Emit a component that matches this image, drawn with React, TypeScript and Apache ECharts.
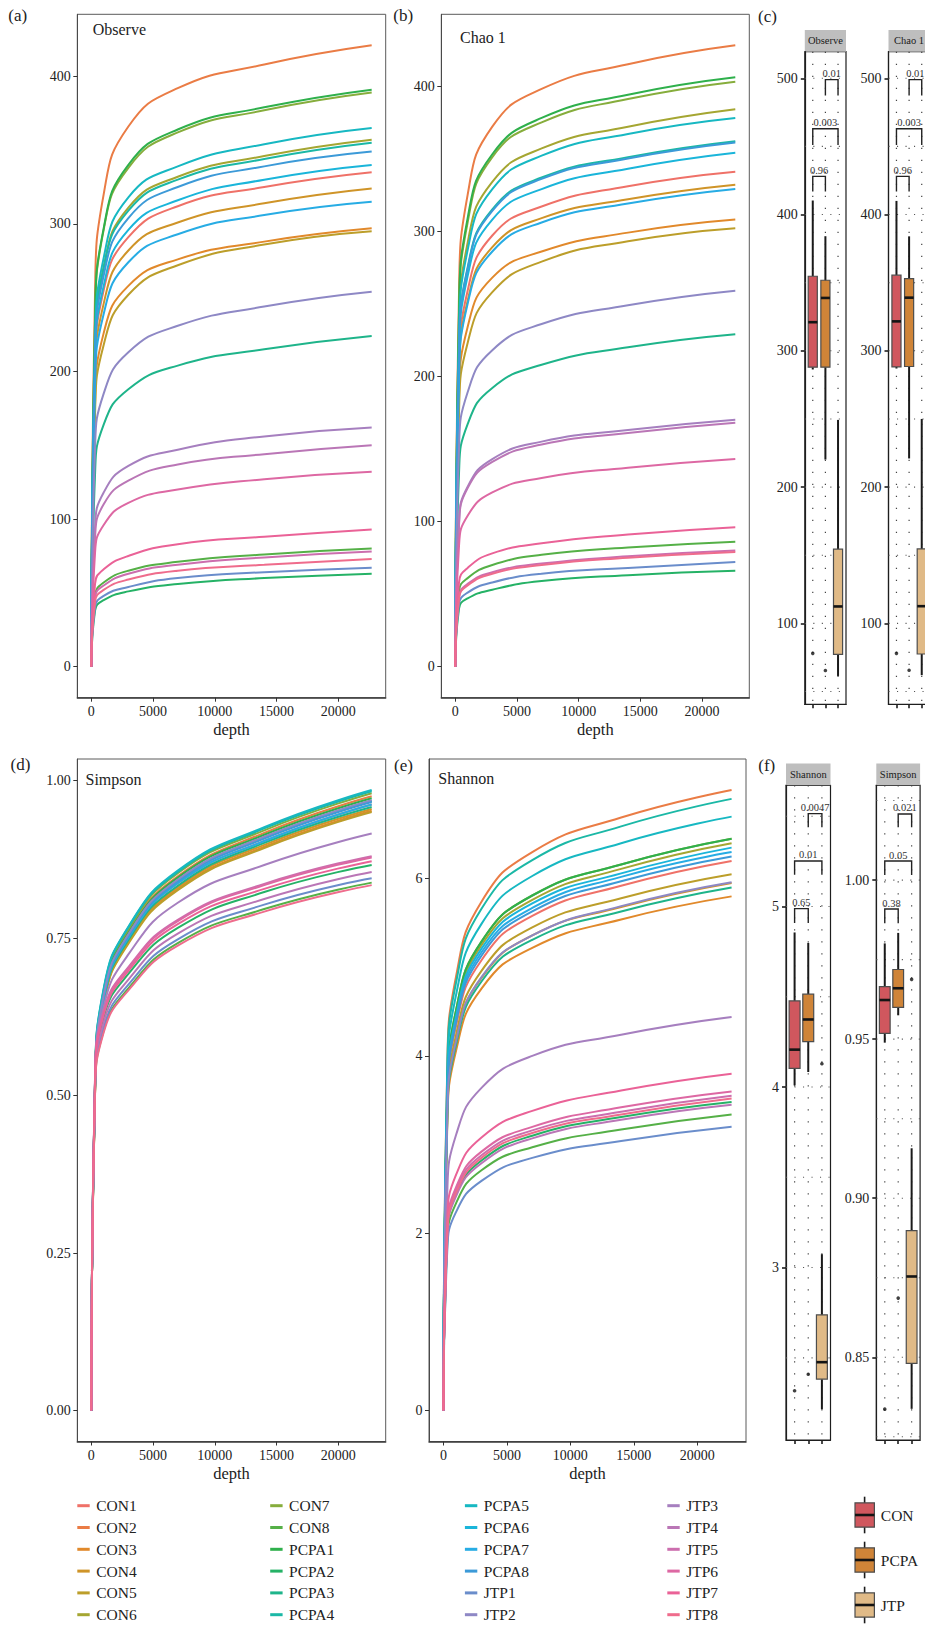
import React, { useEffect, useRef } from 'react';
import * as echarts from 'echarts';

const FONT = "'Liberation Serif', 'DejaVu Serif', serif";
const INK = '#222222';

// Rarefaction depths shared by every curve
const depths = [0, 300, 1000, 3000, 7000, 14000, 22700];
const depthTicks = [0, 5000, 10000, 15000, 20000];

const samples = [
  'CON1', 'CON2', 'CON3', 'CON4', 'CON5', 'CON6', 'CON7', 'CON8',
  'PCPA1', 'PCPA2', 'PCPA3', 'PCPA4', 'PCPA5', 'PCPA6', 'PCPA7', 'PCPA8',
  'JTP1', 'JTP2', 'JTP3', 'JTP4', 'JTP5', 'JTP6', 'JTP7', 'JTP8',
];

const sampleColors = [
  '#EF7168', '#EA7C45', '#E1892B', '#CF9428', '#BC9E2A', '#A5A632', '#86AD3C', '#55B047',
  '#2FB04C', '#25B266', '#1EB48A', '#1BB8A6', '#17B8C2', '#1AB5DA', '#27ACE4', '#3C9AD8',
  '#6A8DCB', '#8E88C5', '#A67FBF', '#BA76B6', '#CC6EAE', '#DD68A3', '#EA6297', '#EF6C8C',
];

// Observed OTUs per sample at each depth
const observeCurves = [
  [0, 201, 255, 291, 312, 325, 335],
  [0, 253, 320, 366, 392, 408, 421],
  [0, 178, 226, 258, 276, 288, 297],
  [0, 194, 246, 282, 301, 314, 324],
  [0, 171, 218, 252, 272, 286, 295],
  [0, 214, 271, 311, 332, 346, 357],
  [0, 233, 296, 338, 362, 377, 389],
  [0, 48, 57, 65, 71, 76, 80],
  [0, 235, 297, 340, 364, 379, 391],
  [0, 38, 45, 51, 56, 60, 63],
  [0, 130, 164, 188, 204, 215, 224],
  [0, 213, 270, 309, 330, 344, 355],
  [0, 219, 277, 318, 339, 354, 365],
  [0, 204, 258, 296, 316, 330, 340],
  [0, 189, 239, 274, 293, 306, 315],
  [0, 209, 265, 304, 325, 339, 349],
  [0, 40, 48, 54, 60, 64, 67],
  [0, 147, 185, 213, 231, 244, 254],
  [0, 94, 118, 136, 147, 156, 162],
  [0, 87, 110, 126, 137, 144, 150],
  [0, 47, 55, 63, 69, 74, 78],
  [0, 77, 96, 111, 120, 127, 132],
  [0, 56, 66, 75, 83, 88, 93],
  [0, 44, 52, 59, 65, 69, 73],
];

// Chao 1 estimate per sample at each depth
const chao1Curves = [
  [0, 205, 259, 297, 317, 331, 341],
  [0, 257, 325, 372, 398, 415, 428],
  [0, 185, 234, 268, 286, 299, 308],
  [0, 199, 252, 289, 309, 322, 332],
  [0, 175, 223, 258, 279, 293, 302],
  [0, 230, 292, 334, 357, 372, 384],
  [0, 242, 306, 351, 375, 391, 403],
  [0, 52, 61, 70, 77, 82, 86],
  [0, 244, 309, 353, 378, 394, 406],
  [0, 40, 47, 53, 59, 63, 66],
  [0, 133, 167, 192, 208, 220, 229],
  [0, 217, 275, 315, 337, 351, 362],
  [0, 227, 287, 329, 352, 367, 378],
  [0, 212, 269, 308, 329, 343, 354],
  [0, 197, 250, 286, 306, 319, 329],
  [0, 217, 274, 314, 336, 350, 361],
  [0, 43, 51, 58, 64, 68, 72],
  [0, 150, 189, 218, 236, 249, 259],
  [0, 99, 124, 143, 155, 163, 170],
  [0, 97, 123, 141, 153, 161, 168],
  [0, 48, 57, 65, 71, 76, 80],
  [0, 83, 104, 120, 130, 137, 143],
  [0, 58, 68, 78, 85, 91, 96],
  [0, 47, 56, 64, 70, 75, 79],
];

// Simpson index per sample at each depth
const simpsonCurves = [
  [0, 0.51, 0.654, 0.75, 0.837, 0.904, 0.962],
  [0, 0.517, 0.663, 0.761, 0.848, 0.917, 0.975],
  [0, 0.505, 0.647, 0.743, 0.828, 0.895, 0.952],
  [0, 0.506, 0.649, 0.745, 0.831, 0.898, 0.955],
  [0, 0.503, 0.646, 0.741, 0.826, 0.893, 0.95],
  [0, 0.513, 0.658, 0.754, 0.841, 0.909, 0.967],
  [0, 0.519, 0.666, 0.764, 0.853, 0.921, 0.98],
  [0, 0.503, 0.603, 0.67, 0.742, 0.796, 0.838],
  [0, 0.515, 0.661, 0.758, 0.846, 0.914, 0.972],
  [0, 0.52, 0.624, 0.693, 0.766, 0.823, 0.866],
  [0, 0.508, 0.651, 0.747, 0.833, 0.901, 0.958],
  [0, 0.521, 0.668, 0.767, 0.855, 0.924, 0.983],
  [0, 0.522, 0.67, 0.768, 0.857, 0.926, 0.985],
  [0, 0.513, 0.658, 0.755, 0.842, 0.91, 0.968],
  [0, 0.51, 0.654, 0.75, 0.837, 0.904, 0.962],
  [0, 0.512, 0.657, 0.753, 0.84, 0.908, 0.966],
  [0, 0.507, 0.608, 0.676, 0.748, 0.803, 0.845],
  [0, 0.514, 0.659, 0.756, 0.843, 0.911, 0.969],
  [0, 0.522, 0.641, 0.724, 0.806, 0.866, 0.916],
  [0, 0.513, 0.616, 0.684, 0.757, 0.812, 0.855],
  [0, 0.528, 0.634, 0.704, 0.779, 0.836, 0.88],
  [0, 0.527, 0.632, 0.702, 0.777, 0.834, 0.878],
  [0, 0.523, 0.628, 0.698, 0.772, 0.828, 0.872],
  [0, 0.5, 0.6, 0.667, 0.738, 0.792, 0.834],
];

// Shannon index (log2) per sample at each depth
const shannonCurves = [
  [0, 3.41, 4.34, 5.08, 5.58, 5.92, 6.2],
  [0, 3.85, 4.9, 5.74, 6.3, 6.69, 7.0],
  [0, 3.19, 4.06, 4.76, 5.22, 5.54, 5.8],
  [0, 3.27, 4.17, 4.88, 5.36, 5.68, 5.95],
  [0, 3.33, 4.24, 4.96, 5.45, 5.78, 6.05],
  [0, 3.52, 4.48, 5.25, 5.76, 6.11, 6.4],
  [0, 3.55, 4.52, 5.29, 5.81, 6.16, 6.45],
  [0, 1.87, 2.34, 2.71, 2.97, 3.17, 3.34],
  [0, 3.55, 4.52, 5.29, 5.81, 6.16, 6.45],
  [0, 1.95, 2.44, 2.82, 3.1, 3.31, 3.48],
  [0, 3.25, 4.13, 4.84, 5.31, 5.63, 5.9],
  [0, 3.8, 4.83, 5.66, 6.21, 6.59, 6.9],
  [0, 3.69, 4.69, 5.49, 6.03, 6.4, 6.7],
  [0, 3.49, 4.45, 5.21, 5.72, 6.06, 6.35],
  [0, 3.47, 4.41, 5.17, 5.67, 6.02, 6.3],
  [0, 3.44, 4.38, 5.13, 5.63, 5.97, 6.25],
  [0, 1.79, 2.24, 2.59, 2.85, 3.04, 3.2],
  [0, 3.28, 4.17, 4.89, 5.36, 5.69, 5.96],
  [0, 2.44, 3.11, 3.64, 4.0, 4.24, 4.44],
  [0, 1.93, 2.42, 2.79, 3.07, 3.28, 3.45],
  [0, 1.99, 2.49, 2.88, 3.16, 3.37, 3.55],
  [0, 2.02, 2.52, 2.92, 3.2, 3.42, 3.6],
  [0, 2.13, 2.66, 3.08, 3.38, 3.61, 3.8],
  [0, 1.97, 2.46, 2.85, 3.13, 3.34, 3.52],
];

const observeTicks = [0, 100, 200, 300, 400];
const chao1Ticks = [0, 100, 200, 300, 400];
const simpsonTicks = [0, 0.25, 0.5, 0.75, 1];
const shannonTicks = [0, 2, 4, 6];

// Group boxplots: [min, Q1, median, Q3, max] for CON, PCPA, JTP
const groups = ['CON', 'PCPA', 'JTP'];
const groupColors = ['#D0575E', '#CF8438', '#E0BA87'];

const observeBox = [
  [286.3, 288, 321, 354.7, 410.3],
  [220.2, 288, 338.8, 351.8, 384.1],
  [61.4, 77.3, 112.4, 154.4, 249.3],
];
const observeOutliers = [[0, 78], [1, 65.4]];

const chao1Box = [
  [287, 288.2, 321.6, 355.5, 410],
  [221, 288.5, 339, 353, 384],
  [62, 77.5, 112.6, 154.6, 250],
];
const chao1Outliers = [[0, 78], [1, 65.6]];

const shannonBox = [
  [4.009, 4.103, 4.207, 4.477, 4.856],
  [4.083, 4.251, 4.374, 4.514, 4.798],
  [2.215, 2.382, 2.476, 2.738, 3.074],
];
const shannonOutliers = [[0, 2.318], [1, 2.409], [2, 4.129]];

const simpsonBox = [
  [0.9489, 0.9518, 0.9623, 0.9665, 0.9801],
  [0.9575, 0.96, 0.966, 0.9719, 0.9834],
  [0.8338, 0.8481, 0.8754, 0.8898, 0.9157],
];
const simpsonOutliers = [[0, 0.8337], [1, 0.8686], [2, 0.9688]];

// Pairwise tests: [group a, group b, bracket top, leg end, p-value]
const richnessPvalues: any[] = [
  [0, 1, 428, 417, '0.96'],
  [0, 2, 463, 451, '0.003'],
  [1, 2, 499, 487.3, '0.01'],
];
const shannonPvalues: any[] = [
  [0, 1, 4.988, 4.908, '0.65'],
  [0, 2, 5.252, 5.175, '0.01'],
  [1, 2, 5.514, 5.439, '0.0047'],
];
const simpsonPvalues: any[] = [
  [0, 1, 0.9909, 0.9864, '0.38'],
  [0, 2, 1.006, 1.0016, '0.05'],
  [1, 2, 1.0208, 1.0166, '0.021'],
];

const richnessBoxTicks = [100, 200, 300, 400, 500];
const richnessGuides = [50, 100, 150, 200, 250, 300, 350, 400, 450, 500];
const shannonBoxTicks = [3, 4, 5];
const shannonGuides = [2.5, 3, 3.5, 4, 4.5, 5, 5.5];
const simpsonBoxTicks = [0.85, 0.9, 0.95, 1.0];
const simpsonGuides = [0.825, 0.85, 0.875, 0.9, 0.925, 0.95, 0.975, 1.0, 1.025];

const maxDepth = depths[depths.length - 1];
const depthRange = [-0.05 * maxDepth, 1.05 * maxDepth];
const padded = (rows: number[][]) => {
  const m = Math.max(...rows.map((r) => Math.max(...r)));
  return [-0.05 * m, 1.05 * m];
};

const plain = (v: number) => String(v);
const twoDp = (v: number) => v.toFixed(2);

const curvePanels = [
  { rows: observeCurves, ticks: observeTicks, fmt: plain, rect: { left: 77.3, top: 14.3, width: 308.4, height: 683.4 }, title: 'Observe', titleAt: [92.7, 29], tag: '(a)', tagAt: [8.3, 15.5] },
  { rows: chao1Curves, ticks: chao1Ticks, fmt: plain, rect: { left: 441.3, top: 14.3, width: 308, height: 683.4 }, title: 'Chao 1', titleAt: [460, 37.5], tag: '(b)', tagAt: [393.3, 15.8] },
  { rows: simpsonCurves, ticks: simpsonTicks, fmt: twoDp, rect: { left: 77.3, top: 759, width: 308.4, height: 682.5 }, title: 'Simpson', titleAt: [85.5, 779], tag: '(d)', tagAt: [10.6, 764] },
  { rows: shannonCurves, ticks: shannonTicks, fmt: plain, rect: { left: 429, top: 759, width: 317, height: 682.5 }, title: 'Shannon', titleAt: [438.3, 778.3], tag: '(e)', tagAt: [394, 765] },
];

const boxPanels = [
  { stats: observeBox, outliers: observeOutliers, pvalues: richnessPvalues, ticks: richnessBoxTicks, guides: richnessGuides, range: [40.6, 519.5], fmt: plain, rect: { left: 804.8, top: 51.7, width: 41.2, height: 652.6 }, strip: 'Observe', boxWidth: 0.72 },
  { stats: chao1Box, outliers: chao1Outliers, pvalues: richnessPvalues, ticks: richnessBoxTicks, guides: richnessGuides, range: [40.6, 519.5], fmt: plain, rect: { left: 888.5, top: 51.7, width: 41.2, height: 652.6 }, strip: 'Chao 1', boxWidth: 0.72 },
  { stats: shannonBox, outliers: shannonOutliers, pvalues: shannonPvalues, ticks: shannonBoxTicks, guides: shannonGuides, range: [2.045, 5.671], fmt: plain, rect: { left: 786, top: 785.3, width: 44.5, height: 654.7 }, strip: 'Shannon', boxWidth: 0.8 },
  { stats: simpsonBox, outliers: simpsonOutliers, pvalues: simpsonPvalues, ticks: simpsonBoxTicks, guides: simpsonGuides, range: [0.824, 1.0298], fmt: twoDp, rect: { left: 876.3, top: 785.3, width: 43.8, height: 654.7 }, strip: 'Simpson', boxWidth: 0.8 },
];

const legendLeft = [77.3, 270.2, 464.9, 667.3];
const legendRowsPerColumn = 6;

const label = (text: string, x: number, y: number, size: number, align: string = 'left', fill: string = INK) => ({
  type: 'text', x, y, silent: true,
  style: { text, font: `${size}px ${FONT}`, fill, align, verticalAlign: 'middle' },
});

function buildOption() {
  const grid: any[] = [];
  const xAxis: any[] = [];
  const yAxis: any[] = [];
  const series: any[] = [];
  const graphic: any[] = [];

  curvePanels.forEach((p, pi) => {
    const [yMin, yMax] = padded(p.rows);
    grid.push({ ...p.rect, show: true, borderColor: '#5a5a5a', borderWidth: 1, containLabel: false, outerBoundsMode: 'none' });
    xAxis.push({
      type: 'value', gridIndex: pi, min: depthRange[0], max: depthRange[1],
      axisLine: { show: true, onZero: false, lineStyle: { color: '#3a3a3a', width: 1.5 } },
      axisTick: { show: true, length: 4, customValues: depthTicks, lineStyle: { color: '#333' } },
      axisLabel: { show: false },
      splitLine: { show: false },
    });
    yAxis.push({
      type: 'value', gridIndex: pi, min: yMin, max: yMax,
      axisLine: { show: true, onZero: false, lineStyle: { color: '#4a4a4a', width: 1 } },
      axisTick: { show: true, length: 4, customValues: p.ticks, lineStyle: { color: '#333' } },
      axisLabel: { show: false },
      splitLine: { show: false },
    });
    samples.forEach((name, si) => {
      series.push({
        type: 'line', name, xAxisIndex: pi, yAxisIndex: pi,
        data: depths.map((d, k) => [d, p.rows[si][k]]),
        symbol: 'none', showSymbol: false, smooth: 0.5,
        lineStyle: { width: 2, color: sampleColors[si] },
        itemStyle: { color: sampleColors[si] },
        silent: true, z: 2,
      });
    });
    graphic.push(label(p.title, p.titleAt[0], p.titleAt[1], 16));
    graphic.push(label(p.tag, p.tagAt[0], p.tagAt[1], 17));
  });

  boxPanels.forEach((p, bi) => {
    const ai = curvePanels.length + bi;
    grid.push({ ...p.rect, show: true, borderColor: '#1e1e1e', borderWidth: 1.2, containLabel: false, outerBoundsMode: 'none' });
    xAxis.push({
      type: 'value', gridIndex: ai, min: -0.63, max: 2.63,
      axisLine: { show: true, onZero: false, lineStyle: { color: '#1e1e1e', width: 1.2 } },
      axisTick: { show: true, length: 4, customValues: [0, 1, 2], lineStyle: { color: '#1e1e1e', width: 1.6 } },
      axisLabel: { show: false },
      splitLine: { show: false },
    });
    yAxis.push({
      type: 'value', gridIndex: ai, min: p.range[0], max: p.range[1],
      axisLine: { show: true, onZero: false, lineStyle: { color: '#1e1e1e', width: 1.2 } },
      axisTick: { show: true, length: 4, customValues: p.ticks, lineStyle: { color: '#1e1e1e', width: 1.6 } },
      axisLabel: { show: false },
      splitLine: { show: false },
    });

    // dotted guides behind the boxes
    series.push({
      type: 'custom', xAxisIndex: ai, yAxisIndex: ai, silent: true, z: 1,
      data: [[0, p.range[0]]], encode: { x: 0, y: 1 },
      renderItem: (params: any, api: any) => {
        const cs = params.coordSys;
        const children: any[] = [];
        p.guides.forEach((v: number) => {
          const y = api.coord([0, v])[1];
          children.push({ type: 'line', shape: { x1: cs.x, y1: y, x2: cs.x + cs.width, y2: y }, style: { stroke: '#555', lineWidth: 1.1, lineDash: [1.1, 7.4] } });
        });
        [0, 1, 2].forEach((g) => {
          const x = api.coord([g, p.range[0]])[0];
          children.push({ type: 'line', shape: { x1: x, y1: cs.y, x2: x, y2: cs.y + cs.height }, style: { stroke: '#444', lineWidth: 1.2, lineDash: [1.2, 10.8] } });
        });
        return { type: 'group', children };
      },
    });

    // boxes
    series.push({
      type: 'custom', xAxisIndex: ai, yAxisIndex: ai, silent: true, z: 3,
      data: p.stats.map((s, g) => [g, ...s]),
      encode: { x: 0, y: [1, 2, 3, 4, 5] },
      renderItem: (params: any, api: any) => {
        const g = api.value(0);
        const lo = api.coord([g, api.value(1)]);
        const q1 = api.coord([g, api.value(2)]);
        const md = api.coord([g, api.value(3)]);
        const q3 = api.coord([g, api.value(4)]);
        const hi = api.coord([g, api.value(5)]);
        const half = api.size([p.boxWidth, 0])[0] / 2;
        const x = lo[0];
        return {
          type: 'group',
          children: [
            { type: 'line', shape: { x1: x, y1: hi[1], x2: x, y2: q3[1] }, style: { stroke: '#1a1a1a', lineWidth: 2 } },
            { type: 'line', shape: { x1: x, y1: q1[1], x2: x, y2: lo[1] }, style: { stroke: '#1a1a1a', lineWidth: 2 } },
            { type: 'rect', shape: { x: x - half, y: q3[1], width: half * 2, height: q1[1] - q3[1] }, style: { fill: groupColors[g], stroke: '#4d4d4d', lineWidth: 1.2 } },
            { type: 'line', shape: { x1: x - half, y1: md[1], x2: x + half, y2: md[1] }, style: { stroke: '#141414', lineWidth: 2.6 } },
          ],
        };
      },
    });

    // outliers
    series.push({
      type: 'scatter', xAxisIndex: ai, yAxisIndex: ai, silent: true, z: 4,
      data: p.outliers, symbolSize: 3.6, itemStyle: { color: '#111' },
    });

    // significance brackets
    series.push({
      type: 'custom', xAxisIndex: ai, yAxisIndex: ai, silent: true, z: 4,
      data: p.pvalues.map((r: any[]) => [r[0], r[1], r[2], r[3]]),
      encode: { x: [0, 1], y: [2, 3] },
      renderItem: (params: any, api: any) => {
        const r = p.pvalues[params.dataIndex];
        const a = api.coord([r[0], r[2]]);
        const b = api.coord([r[1], r[2]]);
        const leg = api.coord([r[0], r[3]])[1];
        return {
          type: 'group',
          children: [
            { type: 'polyline', shape: { points: [[a[0], leg], a, b, [b[0], leg]] }, style: { stroke: '#222', lineWidth: 1.4, fill: 'none' } },
            { type: 'text', style: { text: r[4], x: (a[0] + b[0]) / 2, y: a[1] - 0.5, align: 'center', verticalAlign: 'bottom', font: `10.5px ${FONT}`, fill: '#333' } },
          ],
        };
      },
    });

    // facet strip
    graphic.push({ type: 'rect', silent: true, shape: { x: p.rect.left, y: p.rect.top - 21.8, width: p.rect.width, height: 21.8 }, style: { fill: '#BEBEBE' } });
    graphic.push(label(p.strip, p.rect.left + p.rect.width / 2, p.rect.top - 10.9, 10.5, 'center', '#1a1a1a'));
  });

  graphic.push(label('(c)', 758, 16.5, 17));
  graphic.push(label('(f)', 758.3, 765, 17));

  // sample key (line swatches)
  samples.forEach((name, i) => {
    const col = Math.floor(i / legendRowsPerColumn);
    const row = i % legendRowsPerColumn;
    const cy = 1505.7 + 21.8 * row;
    graphic.push({ type: 'rect', silent: true, shape: { x: legendLeft[col], y: cy - 1.5, width: 12.4, height: 3 }, style: { fill: sampleColors[i] } });
    graphic.push(label(name, legendLeft[col] + 18.9, cy, 15.5));
  });

  // group key
  groups.forEach((g, i) => {
    const cy = 1515 + 45 * i;
    graphic.push({ type: 'line', silent: true, shape: { x1: 864.6, y1: cy - 18.3, x2: 864.6, y2: cy + 18.3 }, style: { stroke: '#1a1a1a', lineWidth: 1.6 } });
    graphic.push({ type: 'rect', silent: true, shape: { x: 855, y: cy - 12.2, width: 19.4, height: 24.4 }, style: { fill: groupColors[i], stroke: '#4d4d4d', lineWidth: 1.2 } });
    graphic.push({ type: 'line', silent: true, shape: { x1: 855, y1: cy, x2: 874.4, y2: cy }, style: { stroke: '#141414', lineWidth: 2.6 } });
    graphic.push(label(g, 880.8, cy, 15.5));
  });

  return {
    animation: false,
    backgroundColor: '#ffffff',
    grid, xAxis, yAxis, series, graphic,
  };
}

// Tick labels and axis titles placed through each grid's own scales
function axisText(chart: any) {
  const out: any[] = [];
  curvePanels.forEach((p, pi) => {
    const [yMin] = padded(p.rows);
    const finder = { gridIndex: pi };
    depthTicks.forEach((t) => {
      const [x, y] = chart.convertToPixel(finder, [t, yMin]);
      out.push(label(plain(t), x, y + 14, 14, 'center'));
    });
    p.ticks.forEach((t) => {
      const [x, y] = chart.convertToPixel(finder, [depthRange[0], t]);
      out.push(label(p.fmt(t), x - 6.5, y, 14, 'right'));
    });
    const [cx, by] = chart.convertToPixel(finder, [(depthRange[0] + depthRange[1]) / 2, yMin]);
    out.push(label('depth', cx, by + 31.6, 16.5, 'center'));
  });
  boxPanels.forEach((p, bi) => {
    const finder = { gridIndex: curvePanels.length + bi };
    p.ticks.forEach((t) => {
      const [x, y] = chart.convertToPixel(finder, [-0.63, t]);
      out.push(label(p.fmt(t), x - 7, y, 14, 'right'));
    });
  });
  return out;
}

export default function App() {
  const ref = useRef<HTMLDivElement>(null);
  useEffect(() => {
    document.body.style.margin = '0';
    if (!ref.current) return;
    const chart = echarts.init(ref.current, undefined, { renderer: 'svg' });
    const option: any = buildOption();
    chart.setOption(option);
    chart.setOption({ graphic: [...option.graphic, ...axisText(chart)] });
    return () => chart.dispose();
  }, []);
  return <div ref={ref} style={{ width: 925, height: 1628 }} />;
}
